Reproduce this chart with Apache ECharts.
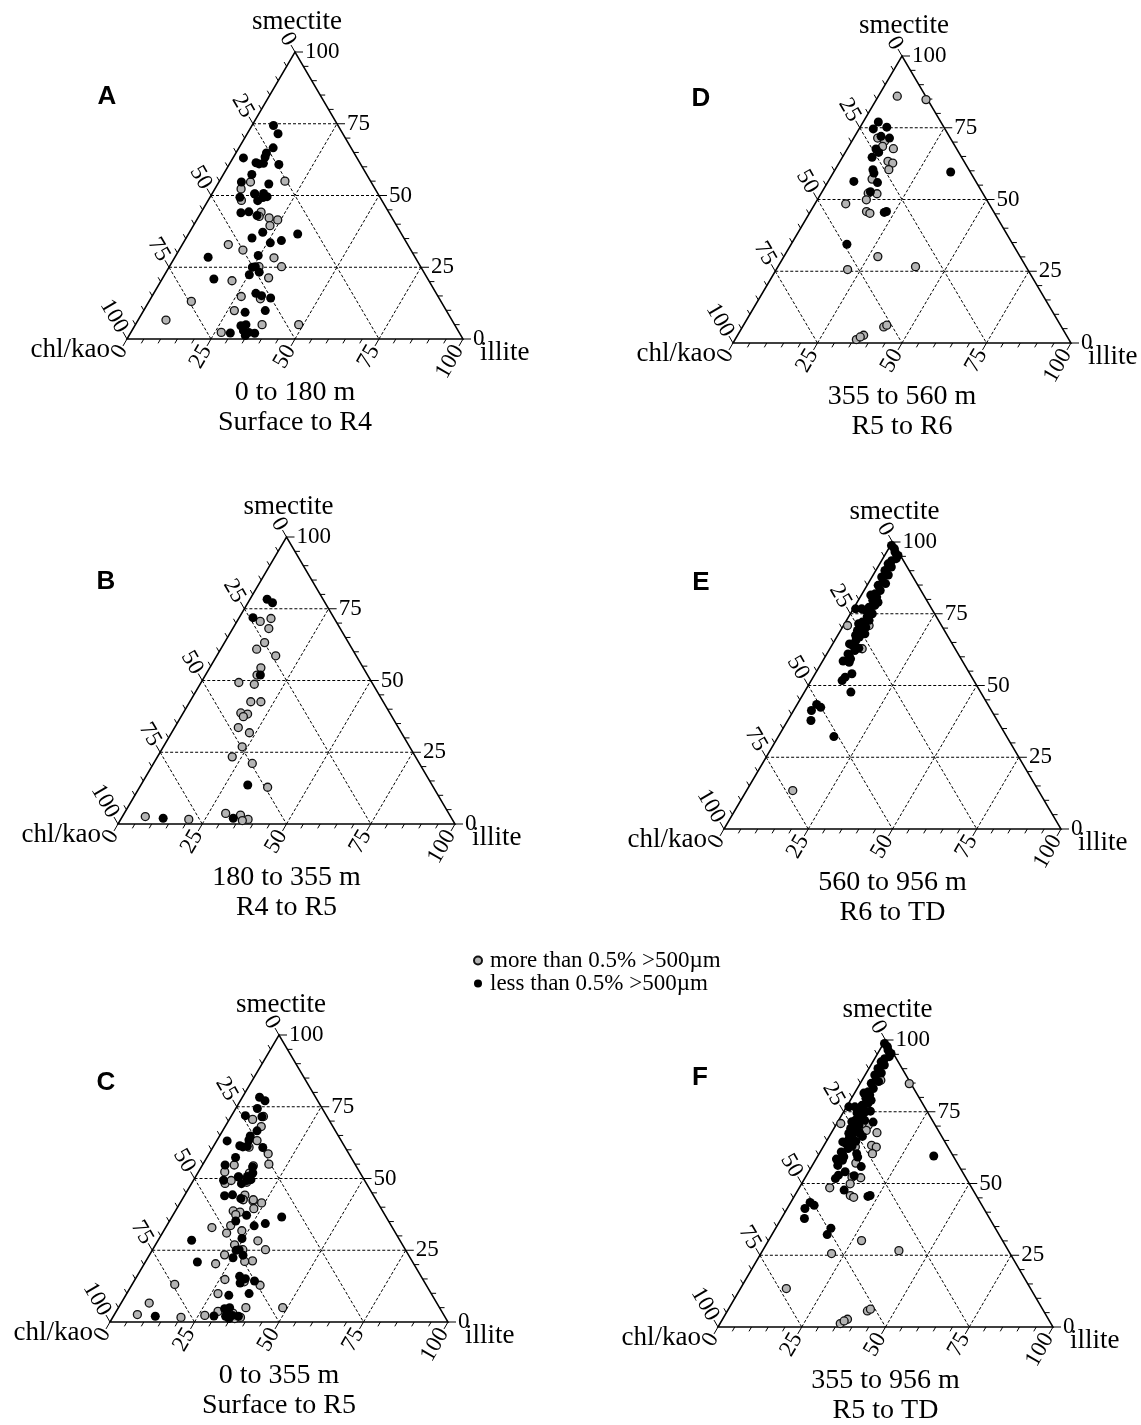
<!DOCTYPE html>
<html>
<head>
<meta charset="utf-8">
<script src="https://cdn.jsdelivr.net/npm/echarts@6/dist/echarts.min.js"></script>
<style>
html,body{margin:0;padding:0;background:#fff}
#chartmain{width:1141px;height:1425px}
</style>
</head>
<body>
<div id="chartmain"></div>
<script>
// clay mineralogy, each point = [smectite %, illite %]; chl/kao = 100 - smectite - illite
// A: 0 to 180 m
var aGray = [[55,19.5],[54.7,9.4],[52.3,7.8],[50.6,12.7],[48.3,9.9],[44.2,17.8],[42.7,18],[42.2,21.2],[41.5,24.1],[39.5,22.8],
    [32.9,13.7],[31,19],[28.3,29.6],[25.2,33.4],[25.2,26.7],[21.3,31.5],[20.3,21.1],[13.1,12.6],[14.8,26.6],[14,32.7],
    [9.9,27],[6.6,8.3],[5,37.7],[5,48.6],[2.3,26.9]];
var aBlack = [[74.4,6.4],[71.5,9.2],[66.6,10.2],[64.8,9.1],[63.4,9.4],[63.1,3.1],[61.4,7.7],[61,8.8],[61.2,10],[60.8,14.8],
    [57.3,8.5],[54,15.2],[54.7,6.7],[49.4,8.9],[50.5,12.8],[50.7,15.3],[49.3,15.8],[48.2,14.8],[49.6,16.9],[44,11.9],
    [44.3,14.1],[43,17.2],[37.2,21.8],[35.2,19.6],[33.5,25.9],[34.3,28.8],[36.6,32.5],[28.5,9.9],[29.1,24.5],[25,24.8],
    [25.2,25.6],[22.4,25.2],[23.3,27.7],[20.9,15.4],[15.9,30.4],[15.1,32.5],[14.3,35.6],[9.3,30.5],[9.9,36.2],[4.6,31.6],
    [5,32.9],[2.9,33.2],[2.3,35.1],[2,37],[2.1,29.7],[1.2,34.6]];
// B: 180 to 355 m
var bGray = [[70.6,6.9],[71.6,9.6],[68.1,10.7],[63.2,11.9],[60.9,10.7],[58.6,17.5],[54.4,15.2],[51.9,15.3],[49.3,11.2],[48.7,16.1],
    [42.6,18.1],[42.6,21.1],[38.7,17.1],[38.3,19.3],[37.4,18.5],[33.6,18.9],[31.8,23.1],[26.9,23.4],[23.4,22.2],[21.1,29.3],
    [12.8,38],[2.6,6.8],[1.6,20.2],[3.7,30.1],[3.1,34.8],[1.6,37.8],[1.2,36.3]];
var bBlack = [[78.3,5.1],[77.1,7.3],[71.9,4.1],[51.9,16.3],[13.6,31.7],[2,12.4],[2,33.2]];
// D: 355 to 560 m
var dGray = [[86,5.6],[84.8,14.7],[71.4,7.1],[70.3,9.7],[68.5,10],[67.7,13.6],[63.3,14.2],[62.7,15.9],[60.4,15.9],[57.1,12.6],
    [52.2,13.9],[52,16.6],[49.9,14.5],[48.5,9.1],[45.8,16.6],[45.2,17.9],[30.1,27.8],[25.6,21.1],[26.6,40.7],[5.6,41.8],
    [6.2,42.4],[1.2,35.9],[2.7,37.3],[2.1,36.6]];
var dBlack = [[77,4.5],[74.6,4.2],[75.2,7.9],[72,7.8],[71.4,10.6],[67.6,8.5],[66.4,9.9],[64.7,8.8],[60.4,11.2],[59.2,12.1],
    [55.9,14.8],[56.3,7.6],[52.7,14.3],[45.5,22],[45.8,22.5],[59.6,34.6],[34.4,16.5]];
// E: 560 to 956 m
var eGray = [[70.9,1.2],[70.9,7.6],[62.8,9.6],[13.4,13.7]];
var eBlack = [[98.8,0.3],[97.7,1.7],[96.5,2.5],[95.3,4],[94.2,4],[93.5,3],[92.4,2.5],[91.3,4],[90.1,2.7],[89,3.7],
    [88.5,4.5],[87.8,2.9],[86,4.2],[85.5,5.2],[84.9,3.3],[83.1,4.8],[82,3.9],[81.5,2.8],[80.8,4.9],[79.7,4.3],
    [79,6.2],[77.9,5.8],[77.3,4.4],[76.2,4],[76.7,2.5],[76.7,0.7],[75.6,5.7],[75,6.5],[74,5.5],[72.7,6.7],
    [72.1,5],[71.5,4.2],[70.3,6.9],[69.2,6.5],[69.2,5],[68,7.8],[67.5,5.3],[66.9,6.7],[65.7,6.3],[64.5,5],
    [64,6.2],[63,8.5],[62.2,7.7],[61,6.3],[60,7.2],[59.3,7.9],[58.5,6.1],[58.1,8.1],[54.1,10.9],[52.9,9.5],
    [51.7,9.2],[47.7,13.8],[43.4,5.8],[42.4,7.5],[41.3,5.3],[37.8,6.9],[32.2,16.5]];
// C = A + B (0 to 355 m), F = D + E (355 to 956 m)
var cGray = aGray.concat(bGray), cBlack = aBlack.concat(bBlack);
var fGray = dGray.concat(eGray), fBlack = dBlack.concat(eBlack);

var tickValues = [0,5,10,15,20,25,30,35,40,45,50,55,60,65,70,75,80,85,90,95,100];
var grayName = 'more than 0.5% >500µm';
var blackName = 'less than 0.5% >500µm';

var panels = [
    {id:'A', gray:aGray, black:aBlack, depth:'0 to 180 m', zone:'Surface to R4', left:127, top:52, width:336, height:287, letter:[107,97]},
    {id:'B', gray:bGray, black:bBlack, depth:'180 to 355 m', zone:'R4 to R5', left:118, top:537, width:337, height:287, letter:[106,582]},
    {id:'C', gray:cGray, black:cBlack, depth:'0 to 355 m', zone:'Surface to R5', left:110, top:1035, width:338, height:287, letter:[106,1083]},
    {id:'D', gray:dGray, black:dBlack, depth:'355 to 560 m', zone:'R5 to R6', left:733, top:56, width:338, height:287, letter:[701,99]},
    {id:'E', gray:eGray, black:eBlack, depth:'560 to 956 m', zone:'R6 to TD', left:724, top:542, width:337, height:287, letter:[701,583]},
    {id:'F', gray:fGray, black:fBlack, depth:'355 to 956 m', zone:'R5 to TD', left:718, top:1040, width:335, height:287, letter:[700,1078]}
];

var H = Math.sqrt(3) / 2;
var SERIF = '"Liberation Serif", "Times New Roman", serif';
var SANS_BOLD = 'bold 26px "Liberation Sans", Arial, sans-serif';

// ternary -> cartesian
function toXY(p) {
    return [p[1] + p[0] / 2, p[0] * H];
}

// frame: outline, dashed grid, ticks and labels for one tick value
function frameRender(params, api) {
    var v = api.value(0);
    var pt = function (s, i) { return api.coord([i + s / 2, s * H]); };
    var kids = [];
    var major = v % 25 === 0;
    var len = major ? 8 : 5;
    var dl = [-0.5, -H], db = [-0.5, H], dr = [1, 0];
    var L = pt(100 - v, 0), B = pt(0, v), R = pt(v, 100 - v);
    [[L, dl], [B, db], [R, dr]].forEach(function (t) {
        kids.push({type:'line', shape:{x1:t[0][0], y1:t[0][1], x2:t[0][0] + t[1][0] * len, y2:t[0][1] + t[1][1] * len},
            style:{stroke:'#000', lineWidth:1}});
    });
    if (major) {
        var font = '23px ' + SERIF;
        kids.push({type:'text', x:L[0] + dl[0] * 9, y:L[1] + dl[1] * 9, rotation:-Math.PI / 3,
            style:{text:String(v), font:font, fill:'#000', align:'right', verticalAlign:'middle'}});
        kids.push({type:'text', x:B[0] + db[0] * 9, y:B[1] + db[1] * 9, rotation:Math.PI / 3,
            style:{text:String(v), font:font, fill:'#000', align:'right', verticalAlign:'middle'}});
        kids.push({type:'text', x:R[0] + 10, y:R[1],
            style:{text:String(v), font:font, fill:'#000', align:'left', verticalAlign:'middle'}});
        if (v > 0 && v < 100) {
            var dash = {stroke:'#000', lineWidth:1, lineDash:[3, 2]};
            var segs = [[pt(v, 0), pt(v, 100 - v)], [pt(0, v), pt(100 - v, v)], [pt(100 - v, 0), pt(0, 100 - v)]];
            segs.forEach(function (sg) {
                kids.push({type:'line', shape:{x1:sg[0][0], y1:sg[0][1], x2:sg[1][0], y2:sg[1][1]}, style:dash});
            });
        }
    }
    if (v === 0) {
        kids.push({type:'polygon', shape:{points:[pt(0, 0), pt(100, 0), pt(0, 100)]},
            style:{fill:'none', stroke:'#000', lineWidth:1.5}});
    }
    return {type:'group', children:kids};
}

function label(x, y, txt, font, align) {
    return {type:'text', x:x, y:y, silent:true,
        style:{text:txt, font:font, fill:'#000', align:align, verticalAlign:'middle'}};
}

var option = {
    animation: false,
    backgroundColor: '#fff',
    grid: [], xAxis: [], yAxis: [], series: [], graphic: [],
    legend: {
        data: [grayName, blackName],
        orient: 'vertical',
        left: 468, top: 944,
        itemWidth: 8, itemHeight: 8, itemGap: 0,
        selectedMode: false,
        textStyle: {fontFamily: SERIF, fontSize: 23, color: '#000', lineHeight: 20, padding: [0, 0, 0, 3]}
    }
};

panels.forEach(function (p, k) {
    option.grid.push({left:p.left, top:p.top, width:p.width, height:p.height});
    option.xAxis.push({gridIndex:k, type:'value', min:0, max:100, show:false});
    option.yAxis.push({gridIndex:k, type:'value', min:0, max:100 * H, show:false});
    option.series.push({type:'custom', xAxisIndex:k, yAxisIndex:k, renderItem:frameRender, clip:false, silent:true, z:1,
        data: tickValues.map(function (v) { return [v, 0]; })});
    option.series.push({type:'scatter', name:grayName, xAxisIndex:k, yAxisIndex:k, z:3, clip:false,
        symbolSize:8, itemStyle:{color:'#b4b4b4', borderColor:'#111', borderWidth:1.3, opacity:1},
        emphasis:{disabled:true}, data:p.gray.map(toXY)});
    option.series.push({type:'scatter', name:blackName, xAxisIndex:k, yAxisIndex:k, z:4, clip:false,
        symbolSize:9, itemStyle:{color:'#000', opacity:1},
        emphasis:{disabled:true}, data:p.black.map(toXY)});

    var cx = p.left + p.width / 2, by = p.top + p.height;
    option.graphic.push(label(cx + 2, p.top - 30, 'smectite', '27px ' + SERIF, 'center'));
    option.graphic.push(label(p.left - 17, by + 11, 'chl/kao', '27px ' + SERIF, 'right'));
    option.graphic.push(label(p.left + p.width + 17, by + 14, 'illite', '27px ' + SERIF, 'left'));
    option.graphic.push(label(cx, by + 54, p.depth, '28px ' + SERIF, 'center'));
    option.graphic.push(label(cx, by + 84, p.zone, '28px ' + SERIF, 'center'));
    option.graphic.push(label(p.letter[0], p.letter[1], p.id, SANS_BOLD, 'center'));
});

var myChart = echarts.init(document.getElementById('chartmain'));
myChart.setOption(option);
</script>
</body>
</html>
